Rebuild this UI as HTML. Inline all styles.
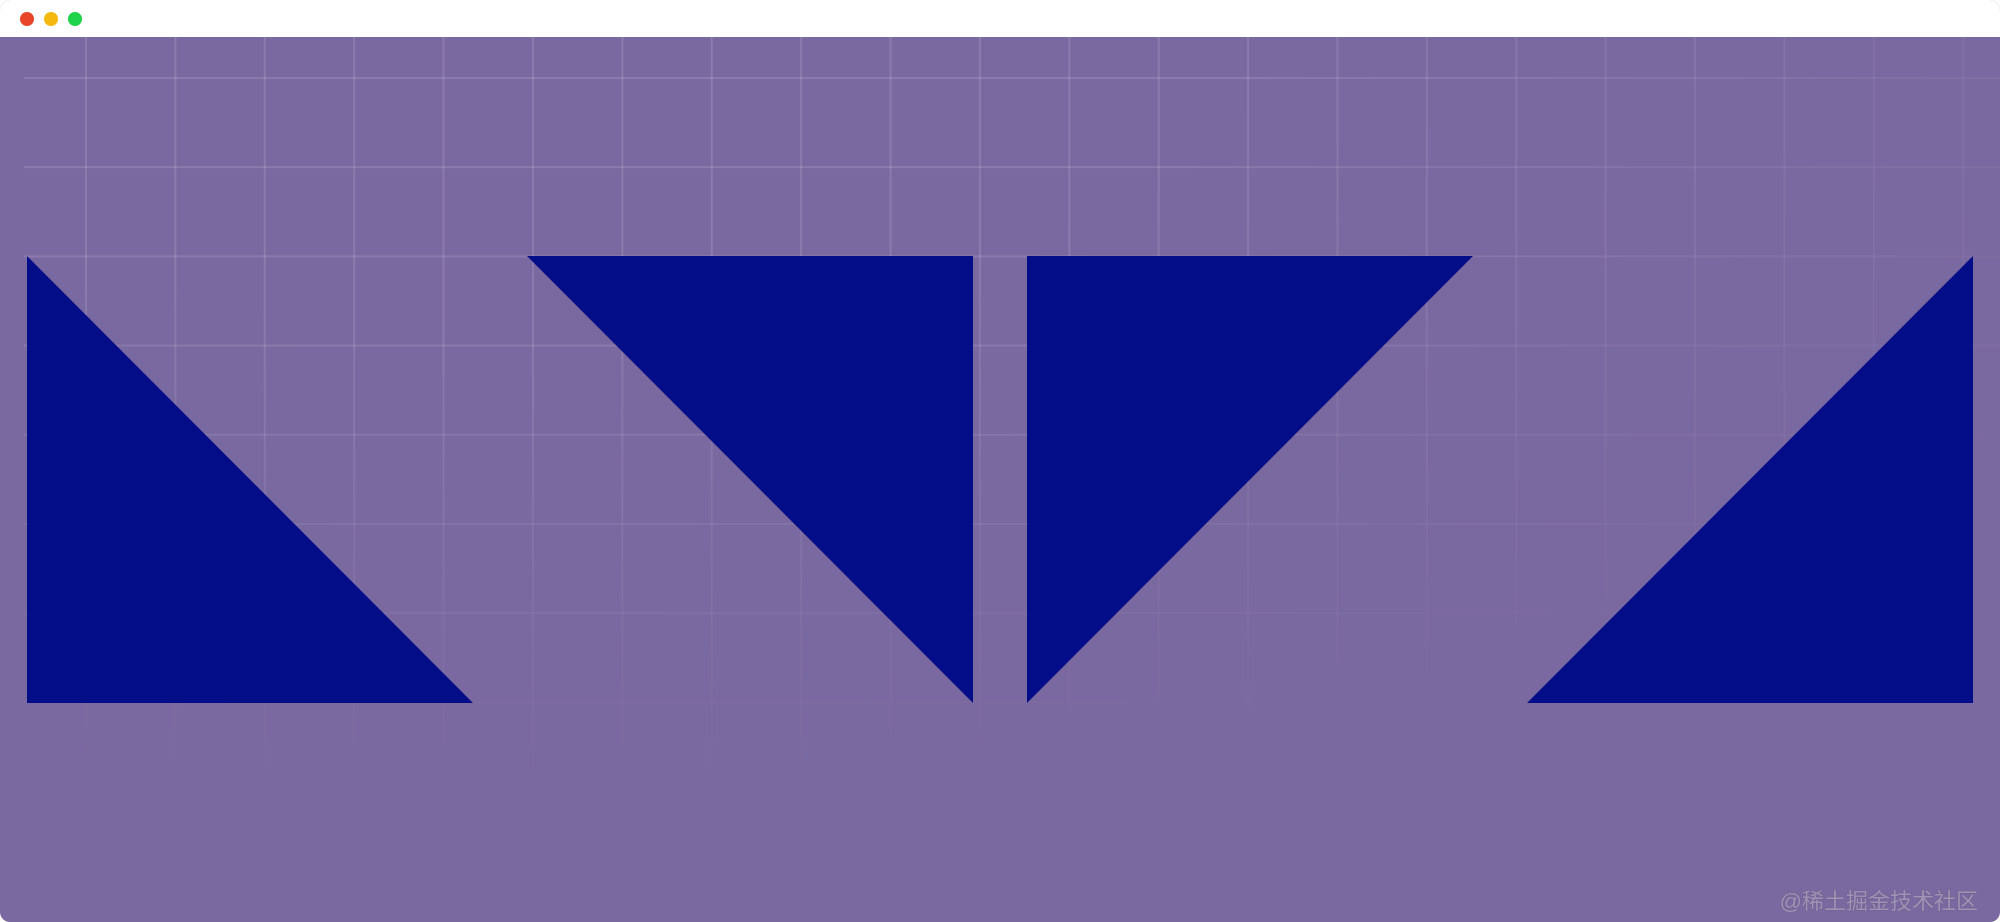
<!DOCTYPE html>
<html><head><meta charset="utf-8"><style>
html,body{margin:0;padding:0;width:2000px;height:922px;overflow:hidden;background:#fff}
#win{position:absolute;left:0;top:0;width:2000px;height:922px;border-radius:10px;overflow:hidden;background:#7a68a0}
#bar{position:absolute;left:0;top:0;width:2000px;height:37px;background:#fff}
.dot{position:absolute;top:12px;width:14px;height:14px;border-radius:50%}
#grid{position:absolute;left:24px;top:37px;width:1976px;height:885px;
background-image:linear-gradient(rgba(255,255,255,.13) 2px,transparent 2px),linear-gradient(90deg,rgba(255,255,255,.13) 2px,transparent 2px);
background-size:89.4px 89.2px;background-position:61px 40px;
-webkit-mask-image:radial-gradient(ellipse 2000px 800px at 25% 0%,#000 35%,transparent 95%);
mask-image:radial-gradient(ellipse 2000px 800px at 25% 0%,#000 35%,transparent 95%)}
#wm{position:absolute;right:22px;bottom:6px;font:22px "Liberation Sans","Noto Sans CJK SC",sans-serif;color:rgba(170,160,190,.85);text-shadow:0 0 1px #5a4d70}
</style></head><body>
<div id="win">
<div id="bar">
<div class="dot" style="left:20px;background:#e9452b"></div>
<div class="dot" style="left:44px;background:#f4b80f"></div>
<div class="dot" style="left:68px;background:#1ed34a"></div>
</div>
<div id="grid"></div>
<svg width="2000" height="922" style="position:absolute;left:0;top:0">
<polygon points="27,256 27,703 473,703" fill="#030d87"/>
<polygon points="527,256 973,256 973,703" fill="#030d87"/>
<polygon points="1027,256 1473,256 1027,703" fill="#030d87"/>
<polygon points="1973,256 1973,703 1527,703" fill="#030d87"/>
</svg>
<div id="wm">@稀土掘金技术社区</div>
</div>
</body></html>
